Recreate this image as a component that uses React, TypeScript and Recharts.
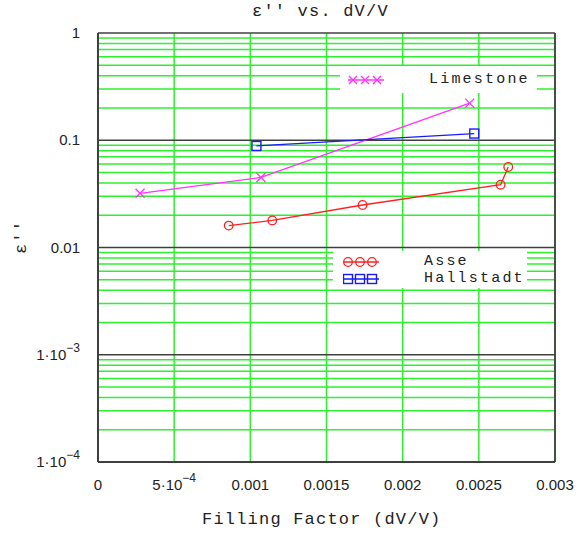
import {
    ComposedChart,
    Line,
    XAxis,
    YAxis,
    CartesianGrid,
    ReferenceLine
} from "recharts";

const xTicks = [0, 0.0005, 0.001, 0.0015, 0.002, 0.0025, 0.003];
const xTickLabels = ["0", "5·10|−4", "0.001", "0.0015", "0.002", "0.0025", "0.003"];

const yDecades = [0.0001, 0.001, 0.01, 0.1, 1];
const yTickLabels = ["1·10|−4", "1·10|−3", "0.01", "0.1", "1"];
const yMinorSteps = [2, 3, 4, 5, 6, 7, 8, 9];

const limestoneX = [0.000276, 0.00107, 0.00244];
const limestoneY = [0.032, 0.045, 0.222];

const hallstadtX = [0.00104, 0.00247];
const hallstadtY = [0.0885, 0.1155];

const asseX = [0.000858, 0.001144, 0.001737, 0.002643, 0.002693];
const asseY = [0.0160, 0.0179, 0.0249, 0.0385, 0.0563];

const toRows = (xs: number[], ys: number[]) =>
    xs.map((x, i) => ({ x, y: ys[i] }));

const limestone = toRows(limestoneX, limestoneY);
const hallstadt = toRows(hallstadtX, hallstadtY);
const asse = toRows(asseX, asseY);

const minorTicks = yDecades
    .slice(0, -1)
    .flatMap(d => yMinorSteps.map(s => d * s));

const GREEN = "#2ef02e";
const FRAME = "#404040";
const MAGENTA = "#ff33ff";
const RED = "#ff2020";
const BLUE = "#1a1aff";

const mono = "'Liberation Mono', 'DejaVu Sans Mono', monospace";
const tickFont = "'Liberation Sans Narrow', 'Liberation Sans', Arial, sans-serif";

function TickText({ label }: { label: string }) {
    const [base, sup] = label.split("|");
    return (
        <>
            <tspan>{base}</tspan>
            {sup && (
                <tspan dy={-8} fontSize={12}>{sup}</tspan>
            )}
        </>
    );
}

function XTick(props: any) {
    const { x, y, payload } = props;
    const i = xTicks.indexOf(payload.value);
    const label = xTickLabels[i] ?? "";
    return (
        <text
            x={x}
            y={y + 20}
            textAnchor="middle"
            fontFamily={tickFont}
            fontSize={15}
            fill="#222"
        >
            <TickText label={label} />
        </text>
    );
}

function YTick(props: any) {
    const { x, y, payload } = props;
    const i = yDecades.findIndex(d => Math.abs(d - payload.value) / d < 1e-6);
    const label = yTickLabels[i] ?? "";
    return (
        <text
            x={x - 10}
            y={y + 5}
            textAnchor="end"
            fontFamily={tickFont}
            fontSize={15}
            fill="#222"
        >
            <TickText label={label} />
        </text>
    );
}

const crossDot = (props: any) => {
    const { cx, cy, index } = props;
    return (
        <path
            key={index}
            d={`M${cx - 4.5},${cy - 4.5}L${cx + 4.5},${cy + 4.5}M${cx - 4.5},${cy + 4.5}L${cx + 4.5},${cy - 4.5}`}
            stroke={MAGENTA}
            strokeWidth={1.3}
        />
    );
};

const circleDot = (props: any) => {
    const { cx, cy, index } = props;
    return (
        <circle
            key={index}
            cx={cx}
            cy={cy}
            r={4.3}
            fill="none"
            stroke={RED}
            strokeWidth={1.3}
        />
    );
};

const squareDot = (props: any) => {
    const { cx, cy, index } = props;
    return (
        <rect
            key={index}
            x={cx - 4.5}
            y={cy - 4.5}
            width={9}
            height={9}
            fill="none"
            stroke={BLUE}
            strokeWidth={1.4}
        />
    );
};

function LegendMarks({ kind, color }: { kind: string; color: string }) {
    const xs = [5, 17, 29];
    return (
        <svg width={36} height={12} style={{ display: "block" }}>
            <line x1={0} y1={6} x2={36} y2={6} stroke={color} strokeWidth={1.3} />
            {xs.map(cx =>
                kind === "cross" ? (
                    <path
                        key={cx}
                        d={`M${cx - 4},${2}L${cx + 4},${10}M${cx - 4},${10}L${cx + 4},${2}`}
                        stroke={color}
                        strokeWidth={1.3}
                    />
                ) : kind === "circle" ? (
                    <circle key={cx} cx={cx} cy={6} r={4.3} fill="none" stroke={color} strokeWidth={1.3} />
                ) : (
                    <rect key={cx} x={cx - 4.5} y={1.5} width={9} height={9} fill="none" stroke={color} strokeWidth={1.4} />
                )
            )}
        </svg>
    );
}

const textStyle: React.CSSProperties = {
    position: "absolute",
    fontFamily: mono,
    fontSize: 17,
    letterSpacing: 1.2,
    color: "#222",
    whiteSpace: "nowrap",
    lineHeight: "16px"
};

const legendText: React.CSSProperties = {
    ...textStyle,
    fontSize: 15,
    letterSpacing: 2.2,
    lineHeight: "15px"
};

export default function App() {
    return (
        <div
            style={{
                position: "absolute",
                left: 0,
                top: 0,
                width: 578,
                height: 535,
                background: "#fff"
            }}
        >
            <ComposedChart
                width={578}
                height={535}
                margin={{ top: 33, right: 23, bottom: 33, left: 18 }}
            >
                <CartesianGrid
                    horizontal={false}
                    stroke={GREEN}
                    strokeWidth={1.5}
                />

                {minorTicks.map(v => (
                    <ReferenceLine
                        key={"m" + v}
                        y={v}
                        stroke={GREEN}
                        strokeWidth={1.5}
                    />
                ))}

                {yDecades.map(v => (
                    <ReferenceLine
                        key={"d" + v}
                        y={v}
                        stroke={FRAME}
                        strokeWidth={1.5}
                    />
                ))}

                <ReferenceLine x={0.003} stroke={FRAME} strokeWidth={1.8} />
                <ReferenceLine x={0} stroke={FRAME} strokeWidth={1.8} />

                <XAxis
                    type="number"
                    dataKey="x"
                    domain={[0, 0.003]}
                    ticks={xTicks}
                    interval={0}
                    height={40}
                    tickLine={false}
                    axisLine={{ stroke: FRAME, strokeWidth: 1.8 }}
                    tick={<XTick />}
                    allowDataOverflow
                />

                <YAxis
                    type="number"
                    dataKey="y"
                    scale="log"
                    domain={[0.0001, 1]}
                    ticks={yDecades}
                    interval={0}
                    width={80}
                    tickLine={false}
                    axisLine={{ stroke: FRAME, strokeWidth: 1.8 }}
                    tick={<YTick />}
                    allowDataOverflow
                />

                <Line
                    data={limestone}
                    dataKey="y"
                    stroke={MAGENTA}
                    strokeWidth={1.3}
                    dot={crossDot}
                    type="linear"
                    isAnimationActive={false}
                />

                <Line
                    data={hallstadt}
                    dataKey="y"
                    stroke={BLUE}
                    strokeWidth={1.3}
                    dot={squareDot}
                    type="linear"
                    isAnimationActive={false}
                />

                <Line
                    data={asse}
                    dataKey="y"
                    stroke={RED}
                    strokeWidth={1.3}
                    dot={circleDot}
                    type="linear"
                    isAnimationActive={false}
                />
            </ComposedChart>

            <div style={{ ...textStyle, left: 252, top: 4 }}>
                ε'' vs. dV/V
            </div>

            <div
                style={{
                    ...textStyle,
                    left: 22,
                    top: 237,
                    transform: "translate(-50%, -50%) rotate(-90deg)"
                }}
            >
                ε''
            </div>

            <div style={{ ...textStyle, left: 202, top: 512 }}>
                Filling Factor (dV/V)
            </div>

            <div
                style={{
                    position: "absolute",
                    left: 340,
                    top: 66,
                    width: 197,
                    height: 27,
                    background: "#fff"
                }}
            >
                <div style={{ position: "absolute", left: 8, top: 8 }}>
                    <LegendMarks kind="cross" color={MAGENTA} />
                </div>
                <div style={{ ...legendText, left: 89, top: 6 }}>Limestone</div>
            </div>

            <div
                style={{
                    position: "absolute",
                    left: 333,
                    top: 251,
                    width: 194,
                    height: 37,
                    background: "#fff"
                }}
            >
                <div style={{ position: "absolute", left: 10, top: 5 }}>
                    <LegendMarks kind="circle" color={RED} />
                </div>
                <div style={{ ...legendText, left: 91, top: 3 }}>Asse</div>
                <div style={{ position: "absolute", left: 10, top: 22 }}>
                    <LegendMarks kind="square" color={BLUE} />
                </div>
                <div style={{ ...legendText, left: 91, top: 20 }}>Hallstadt</div>
            </div>
        </div>
    );
}
